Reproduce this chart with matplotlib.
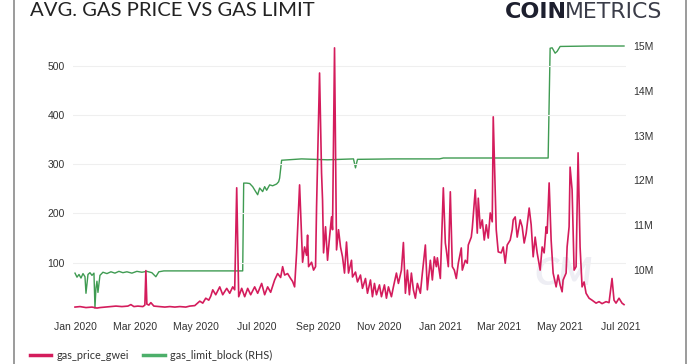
import pandas as pd
import matplotlib
matplotlib.use("Agg")
import matplotlib.pyplot as plt
import matplotlib.dates as mdates
from matplotlib.ticker import FuncFormatter
from matplotlib.lines import Line2D

# daily avg gas price (gwei)
price_dates = [
    "2020-01-01", "2020-01-06", "2020-01-12", "2020-01-18", "2020-01-23", "2020-01-26", "2020-01-31",
    "2020-02-05", "2020-02-11", "2020-02-17", "2020-02-23", "2020-02-26", "2020-02-29", "2020-03-04",
    "2020-03-09", "2020-03-11", "2020-03-12", "2020-03-13", "2020-03-15", "2020-03-17", "2020-03-20",
    "2020-03-26", "2020-03-31", "2020-04-05", "2020-04-10", "2020-04-15", "2020-04-21", "2020-04-25",
    "2020-04-30", "2020-05-05", "2020-05-08", "2020-05-11", "2020-05-14", "2020-05-16", "2020-05-18",
    "2020-05-21", "2020-05-25", "2020-05-28", "2020-06-01", "2020-06-04", "2020-06-07", "2020-06-09",
    "2020-06-11", "2020-06-13", "2020-06-16", "2020-06-19", "2020-06-22", "2020-06-25", "2020-06-29",
    "2020-07-02", "2020-07-06", "2020-07-09", "2020-07-12", "2020-07-15", "2020-07-19", "2020-07-22",
    "2020-07-25", "2020-07-27", "2020-07-29", "2020-08-01", "2020-08-04", "2020-08-06", "2020-08-08",
    "2020-08-10", "2020-08-13", "2020-08-16", "2020-08-18", "2020-08-20", "2020-08-21", "2020-08-22",
    "2020-08-25", "2020-08-27", "2020-08-29", "2020-08-30", "2020-09-02", "2020-09-04", "2020-09-05",
    "2020-09-06", "2020-09-08", "2020-09-10", "2020-09-12", "2020-09-14", "2020-09-15", "2020-09-17",
    "2020-09-19", "2020-09-21", "2020-09-23", "2020-09-25", "2020-09-27", "2020-09-29", "2020-10-01",
    "2020-10-04", "2020-10-05", "2020-10-08", "2020-10-10", "2020-10-13", "2020-10-15", "2020-10-18",
    "2020-10-20", "2020-10-23", "2020-10-25", "2020-10-27", "2020-10-29", "2020-11-01", "2020-11-03",
    "2020-11-06", "2020-11-08", "2020-11-10", "2020-11-13", "2020-11-15", "2020-11-18", "2020-11-20",
    "2020-11-23", "2020-11-25", "2020-11-27", "2020-11-29", "2020-12-01", "2020-12-03", "2020-12-05",
    "2020-12-07", "2020-12-09", "2020-12-12", "2020-12-14", "2020-12-17", "2020-12-19", "2020-12-22",
    "2020-12-24", "2020-12-26", "2020-12-28", "2020-12-29", "2021-01-01", "2021-01-04", "2021-01-06",
    "2021-01-07", "2021-01-09", "2021-01-11", "2021-01-13", "2021-01-15", "2021-01-17", "2021-01-19",
    "2021-01-22", "2021-01-23", "2021-01-26", "2021-01-28", "2021-01-29", "2021-02-01", "2021-02-02",
    "2021-02-05", "2021-02-07", "2021-02-08", "2021-02-10", "2021-02-12", "2021-02-14", "2021-02-16",
    "2021-02-18", "2021-02-20", "2021-02-22", "2021-02-23", "2021-02-26", "2021-02-28", "2021-03-03",
    "2021-03-05", "2021-03-07", "2021-03-09", "2021-03-12", "2021-03-14", "2021-03-15", "2021-03-17",
    "2021-03-19", "2021-03-22", "2021-03-24", "2021-03-26", "2021-03-28", "2021-03-31", "2021-04-02",
    "2021-04-04", "2021-04-06", "2021-04-08", "2021-04-11", "2021-04-13", "2021-04-15", "2021-04-17",
    "2021-04-18", "2021-04-20", "2021-04-22", "2021-04-24", "2021-04-27", "2021-04-29", "2021-05-01",
    "2021-05-03", "2021-05-04", "2021-05-07", "2021-05-08", "2021-05-10", "2021-05-11", "2021-05-13",
    "2021-05-15", "2021-05-17", "2021-05-19", "2021-05-21", "2021-05-23", "2021-05-25", "2021-05-27",
    "2021-05-30", "2021-06-02", "2021-06-06", "2021-06-09", "2021-06-12", "2021-06-16", "2021-06-19",
    "2021-06-22", "2021-06-24", "2021-06-26", "2021-06-29", "2021-07-02", "2021-07-04",
]
price_gwei = [
    10, 11, 9, 10, 8, 9, 10,
    11, 12, 11, 12, 15, 11, 12,
    11, 14, 84, 16, 14, 19, 12,
    11, 10, 11, 10, 11, 10, 12,
    13, 22, 18, 28, 24, 32, 45,
    35, 51, 35, 48, 38, 51, 45,
    252, 31, 48, 31, 48, 35, 51,
    38, 58, 35, 51, 40, 65, 78,
    70, 92, 75, 78, 68, 62, 51,
    120, 258, 101, 132, 115, 156, 92,
    101, 85, 92, 213, 485, 282, 227,
    120, 173, 105, 152, 193, 167, 536,
    126, 167, 132, 112, 79, 142, 79,
    105, 71, 81, 61, 75, 48, 68,
    38, 65, 31, 58, 35, 55, 31,
    55, 28, 51, 31, 51, 79, 58,
    85, 141, 38, 85, 35, 79, 45,
    28, 58, 38, 79, 136, 45, 105,
    65, 112, 92, 110, 68, 252, 140,
    126, 92, 244, 92, 85, 68, 99,
    130, 85, 105, 99, 136, 152, 170,
    248, 160, 231, 170, 187, 146, 177,
    150, 201, 183, 396, 167, 122, 120,
    132, 99, 136, 146, 167, 187, 193,
    152, 187, 173, 140, 160, 211, 177,
    112, 152, 120, 85, 132, 120, 173,
    160, 262, 146, 79, 51, 75, 55,
    41, 65, 79, 132, 173, 294, 248,
    85, 92, 323, 132, 51, 61, 38,
    28, 24, 18, 21, 17, 21, 19,
    68, 24, 18, 28, 18, 15,
]

# gas limit per block (millions), right-hand scale
limit_dates = [
    "2020-01-01", "2020-01-03", "2020-01-05", "2020-01-07", "2020-01-09", "2020-01-11", "2020-01-12",
    "2020-01-14", "2020-01-16", "2020-01-18", "2020-01-20", "2020-01-21", "2020-01-22", "2020-01-23",
    "2020-01-24", "2020-01-26", "2020-01-29", "2020-02-02", "2020-02-06", "2020-02-10", "2020-02-14",
    "2020-02-18", "2020-02-22", "2020-02-27", "2020-03-03", "2020-03-08", "2020-03-13", "2020-03-18",
    "2020-03-22", "2020-03-25", "2020-03-30", "2020-04-15", "2020-05-10", "2020-06-01", "2020-06-17",
    "2020-06-18", "2020-06-21", "2020-06-24", "2020-06-27", "2020-06-30", "2020-07-02", "2020-07-04",
    "2020-07-07", "2020-07-09", "2020-07-11", "2020-07-14", "2020-07-17", "2020-07-21", "2020-07-23",
    "2020-07-24", "2020-07-26", "2020-08-15", "2020-09-10", "2020-10-06", "2020-10-08", "2020-10-10",
    "2020-11-15", "2020-12-31", "2021-01-04", "2021-02-15", "2021-04-19", "2021-04-21", "2021-04-23",
    "2021-04-26", "2021-04-28", "2021-05-01", "2021-06-01", "2021-07-04",
]
limit_millions = [
    9.93, 9.84, 9.90, 9.82, 9.92, 9.85, 9.48,
    9.90, 9.94, 9.88, 9.93, 9.15, 9.60, 9.75,
    9.50, 9.88, 9.95, 9.92, 9.96, 9.93, 9.97,
    9.94, 9.96, 9.93, 9.97, 9.95, 9.97, 9.94,
    9.85, 9.96, 9.98, 9.98, 9.98, 9.98, 9.98,
    11.94, 11.94, 11.93, 11.86, 11.75, 11.68, 11.83,
    11.75, 11.86, 11.78, 11.90, 11.88, 11.92, 11.97,
    12.05, 12.45, 12.48, 12.46, 12.48, 12.28, 12.47,
    12.48, 12.48, 12.50, 12.50, 12.50, 14.95, 14.96,
    14.84, 14.88, 14.99, 15.00, 15.00,
]

left_ticks = [100, 200, 300, 400, 500]
right_ticks = [10, 11, 12, 13, 14, 15]

RED = "#d41c5c"
GREEN = "#3f9b52"
TXT = "#333333"

fig = plt.figure(figsize=(7, 3.64), dpi=100)
ax = fig.add_axes([73 / 700, 1 - 312 / 364, 553 / 700, 272 / 364])
ax2 = ax.twinx()
ax.set_zorder(2)
ax.patch.set_visible(False)

ax2.plot(pd.to_datetime(limit_dates), limit_millions, color=GREEN, lw=1.0)
ax.plot(pd.to_datetime(price_dates), price_gwei, color=RED, lw=1.2)

ax.set_xlim(pd.Timestamp("2019-12-30"), pd.Timestamp("2021-07-06"))
ax.set_ylim(0, 552)
ax2.set_ylim(9.0625, 15.134)

ax.set_yticks(left_ticks)
ax2.set_yticks(right_ticks)
ax2.yaxis.set_major_formatter(FuncFormatter(lambda v, p: f"{v:.0f}M"))
ax.xaxis.set_major_locator(mdates.MonthLocator(bymonth=[1, 3, 5, 7, 9, 11]))
ax.xaxis.set_major_formatter(mdates.DateFormatter("%b %Y"))

ax.yaxis.grid(True, color="#efefef", lw=0.8)
for a in (ax, ax2):
    for s in a.spines.values():
        s.set_visible(False)
    a.tick_params(length=0, labelsize=7.5, labelcolor=TXT)
    for lab in a.get_xticklabels() + a.get_yticklabels():
        lab.set_fontfamily("Liberation Sans")
ax.tick_params(axis="y", pad=6)
ax.tick_params(axis="x", pad=7)
ax2.tick_params(axis="y", pad=5)

# faint watermark
ax.text(0.835, 0.1, "CM", transform=ax.transAxes, fontsize=28, fontweight="bold",
        fontstyle="italic", color="#eeeef4", family="Lato", zorder=0)

fig.text(30 / 700, 1 - 16.5 / 364, "AVG. GAS PRICE VS GAS LIMIT", family="Lato",
         fontsize=14.6, color="#222222", va="baseline", ha="left")
fig.text(505 / 700, 1 - 17.5 / 364, "COIN", family="DejaVu Sans", fontweight="bold",
         fontsize=16, color="#1d1f2e", va="baseline", ha="left")
fig.text(565 / 700, 1 - 17.5 / 364, "METRICS", family="DejaVu Sans", fontweight="normal",
         fontsize=15.8, color="#3a3c48", va="baseline", ha="left")

for xb in (14, 686):
    fig.add_artist(Line2D([xb / 700, xb / 700], [0, 1], transform=fig.transFigure,
                          color="#8a8a8a", lw=1.2))

handles = [Line2D([], [], color=RED, lw=2.5), Line2D([], [], color="#4caf6a", lw=2.5)]
fig.legend(handles, ["gas_price_gwei", "gas_limit_block (RHS)"], loc="center left",
           bbox_to_anchor=(20 / 700, 1 - 355 / 364), ncol=2, frameon=False,
           handlelength=2.0, handletextpad=0.5, columnspacing=1.3,
           prop={"family": "Lato", "size": 7.8}, labelcolor=TXT)

fig.savefig("out.png", dpi=100)
